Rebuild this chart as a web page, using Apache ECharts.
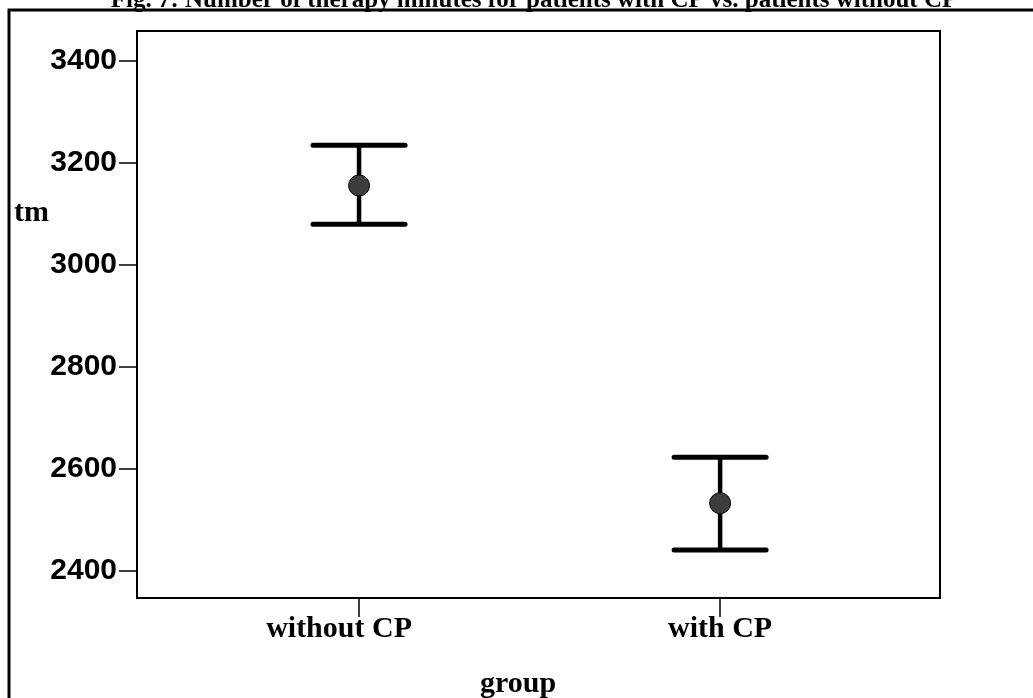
<!DOCTYPE html>
<html>
<head>
<meta charset="utf-8">
<script src="https://cdn.jsdelivr.net/npm/echarts@6/dist/echarts.min.js"></script>
<style>
  html, body { margin: 0; padding: 0; background: #fff; }
  #chart { width: 1033px; height: 698px; }
</style>
</head>
<body>
<div id="chart"></div>
<script>
// Therapy minutes (tm) by group: mean with upper/lower error bounds
const groups = ['without CP', 'with CP'];
const means = [3156, 2533];
const upperBounds = [3235, 2623];
const lowerBounds = [3080, 2441];
const yTickValues = [2400, 2600, 2800, 3000, 3200, 3400];

const serif = '"Liberation Serif", "Times New Roman", serif';
const sans = '"Liberation Sans", Arial, sans-serif';

const groupIndex = groups.map((g, i) => i);

const chart = echarts.init(document.getElementById('chart'), null, { renderer: 'canvas' });

chart.setOption({
  backgroundColor: '#ffffff',
  animation: false,
  grid: {
    left: 137, right: 93, top: 31, bottom: 100,
    show: true, borderColor: '#000', borderWidth: 2, backgroundColor: 'transparent'
  },
  xAxis: {
    type: 'value',
    min: -0.615,
    max: 1.609,
    axisLine: { show: false, onZero: false },
    splitLine: { show: false },
    axisTick: {
      show: true, length: 19, inside: false,
      customValues: groupIndex,
      lineStyle: { color: '#000', width: 1.5 }
    },
    axisLabel: {
      customValues: groupIndex,
      margin: 16,
      formatter: v => {
        const i = Math.round(v);
        return i === 0 ? '{shift|' + groups[i] + '}' : '{plain|' + groups[i] + '}';
      },
      rich: {
        shift: { fontFamily: serif, fontWeight: 'bold', fontSize: 30, color: '#000', padding: [0, 40, 0, 0] },
        plain: { fontFamily: serif, fontWeight: 'bold', fontSize: 30, color: '#000' }
      }
    }
  },
  yAxis: {
    type: 'value',
    min: 2347,
    max: 3459,
    axisLine: { show: false, onZero: false },
    splitLine: { show: false },
    axisTick: {
      show: true, length: 18, inside: false,
      customValues: yTickValues,
      lineStyle: { color: '#000', width: 1.5 }
    },
    axisLabel: {
      customValues: yTickValues,
      margin: 20,
      formatter: v => String(v),
      fontFamily: sans, fontWeight: 'bold', fontSize: 30, color: '#000'
    }
  },
  series: [
    {
      // error bars: vertical stem plus horizontal caps
      type: 'custom',
      data: groupIndex.map(i => [i, lowerBounds[i], upperBounds[i]]),
      renderItem: (params, api) => {
        const x = api.value(0);
        const lo = api.coord([x, api.value(1)]);
        const hi = api.coord([x, api.value(2)]);
        const half = 46;
        const style = { stroke: '#000', lineWidth: 5, lineCap: 'round' };
        return {
          type: 'group',
          children: [
            { type: 'line', shape: { x1: hi[0], y1: hi[1], x2: lo[0], y2: lo[1] }, style: { stroke: '#000', lineWidth: 4.5 } },
            { type: 'line', shape: { x1: hi[0] - half, y1: hi[1], x2: hi[0] + half, y2: hi[1] }, style },
            { type: 'line', shape: { x1: lo[0] - half, y1: lo[1], x2: lo[0] + half, y2: lo[1] }, style }
          ]
        };
      },
      z: 2
    },
    {
      type: 'scatter',
      data: groupIndex.map(i => [i, means[i]]),
      symbol: 'circle',
      symbolSize: 21,
      itemStyle: { color: '#3d3d3d', borderColor: '#000', borderWidth: 1, opacity: 1 },
      z: 3
    }
  ],
  graphic: [
    {
      type: 'text', x: 534, y: -12, z: 1,
      style: {
        text: 'Fig. 7: Number of therapy minutes for patients with CP vs. patients without CP',
        fontFamily: serif, fontWeight: 'bold', fontSize: 25, fill: '#000', align: 'center', verticalAlign: 'top'
      }
    },
    {
      type: 'rect', z: 5, silent: true,
      shape: { x: 9, y: 10, width: 1200, height: 800 },
      style: { fill: 'none', stroke: '#000', lineWidth: 3 }
    },
    {
      type: 'text', x: 14, y: 213, z: 5,
      style: { text: 'tm', fontFamily: serif, fontWeight: 'bold', fontSize: 30, fill: '#000', verticalAlign: 'middle' }
    },
    {
      type: 'text', x: 518, y: 684, z: 5,
      style: { text: 'group', fontFamily: serif, fontWeight: 'bold', fontSize: 30, fill: '#000', align: 'center', verticalAlign: 'middle' }
    }
  ]
});
</script>
</body>
</html>
